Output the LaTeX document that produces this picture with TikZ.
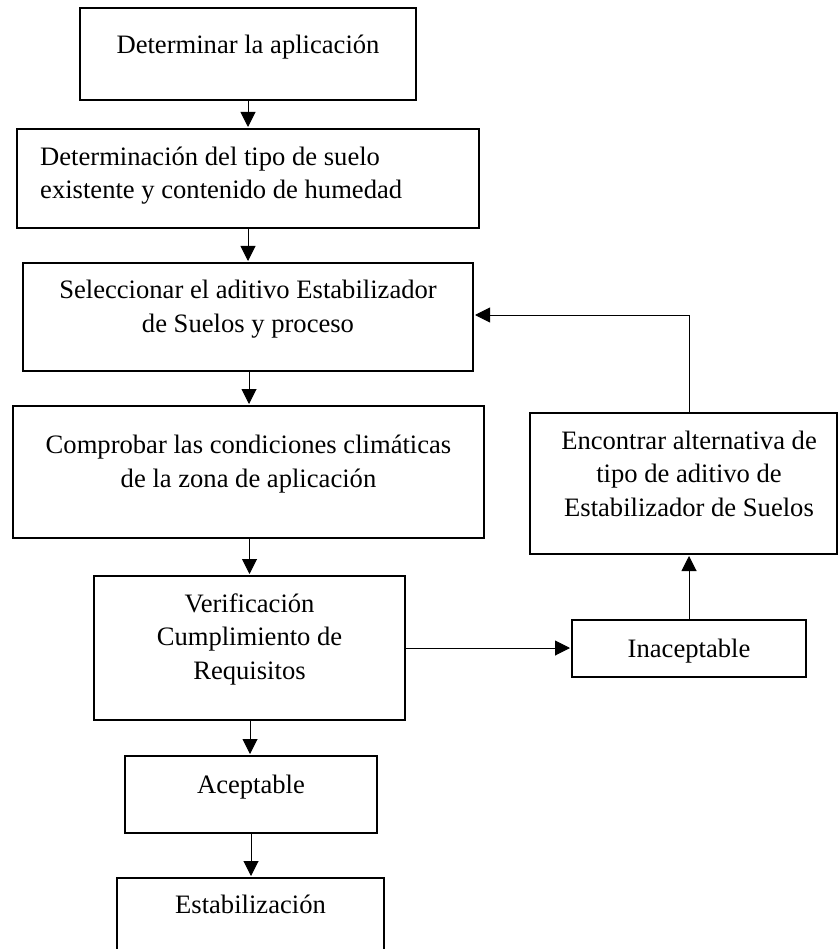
\documentclass[tikz,border=0pt]{standalone}
\usepackage{fontspec}
\setmainfont{Liberation Serif}
\usetikzlibrary{arrows.meta}
\begin{document}
\begin{tikzpicture}[x=1pt,y=-1pt,
  box/.style={draw,line width=2pt,inner sep=0pt,rectangle},
  txt/.style={inner sep=0pt,anchor=base,align=center,font=\fontsize{26.6}{33.5}\selectfont},
  conn/.style={line width=1pt,-{Triangle[length=15pt,width=15pt]},shorten >=1pt}]
\useasboundingbox (0,0) rectangle (838,949);
% boxes
\node[box,minimum width=336pt,minimum height=92pt] (b1) at (248,54) {};
\node[box,minimum width=462pt,minimum height=99pt] (b2) at (248,178.5) {};
\node[box,minimum width=450pt,minimum height=108pt] (b3) at (248,317) {};
\node[box,minimum width=471pt,minimum height=132pt] (b4) at (248.5,472) {};
\node[box,minimum width=311pt,minimum height=144pt] (b5) at (249.5,648) {};
\node[box,minimum width=252pt,minimum height=77pt] (b6) at (251,794.5) {};
\node[box,minimum width=267pt,minimum height=100pt] (b7) at (250.5,928) {};
\node[box,minimum width=234pt,minimum height=57pt] (b8) at (689,648.5) {};
\node[box,minimum width=307pt,minimum height=141pt] (b9) at (683.5,483.5) {};
% texts (base anchor = baseline of the last line)
\node[txt] (t1) at (248,54) {Determinar la aplicación};
\node[txt,anchor=base west,align=left] (t2) at (40,199) {Determinación del tipo de suelo\\existente y contenido de humedad};
\node[txt] (t3) at (248,332) {Seleccionar el aditivo Estabilizador\\de Suelos y proceso};
\node[txt] (t4) at (248.5,487) {Comprobar las condiciones climáticas\\de la zona de aplicación};
\node[txt] (t5) at (249.5,679) {Verificación\\Cumplimiento de\\Requisitos};
\node[txt] (t6) at (251,793) {Aceptable};
\node[txt] (t7) at (250.5,913) {Estabilización};
\node[txt] (t8) at (689,657) {Inaceptable};
\node[txt] (t9) at (689,516) {Encontrar alternativa de\\tipo de aditivo de\\Estabilizador de Suelos};
% connectors
\draw[conn] (b1.south) -- (b2.north);
\draw[conn] (b2.south) -- (b3.north);
\draw[conn] ([xshift=1pt]b3.south) -- ([xshift=1pt]b3.south |- b4.north);
\draw[conn] (b4.south -| b5.north) -- (b5.north);
\draw[conn] ([xshift=0.5pt]b5.south) -- ([xshift=0.5pt]b5.south |- b6.north);
\draw[conn] (b6.south) -- (b6.south |- b7.north);
\draw[conn] (b5.east) -- (b5.east -| b8.west);
\draw[conn] (b8.north) -- (b8.north |- b9.south);
\draw[conn] (b8.north |- b9.north) |- ([yshift=2pt]b3.east);
\end{tikzpicture}
\end{document}
